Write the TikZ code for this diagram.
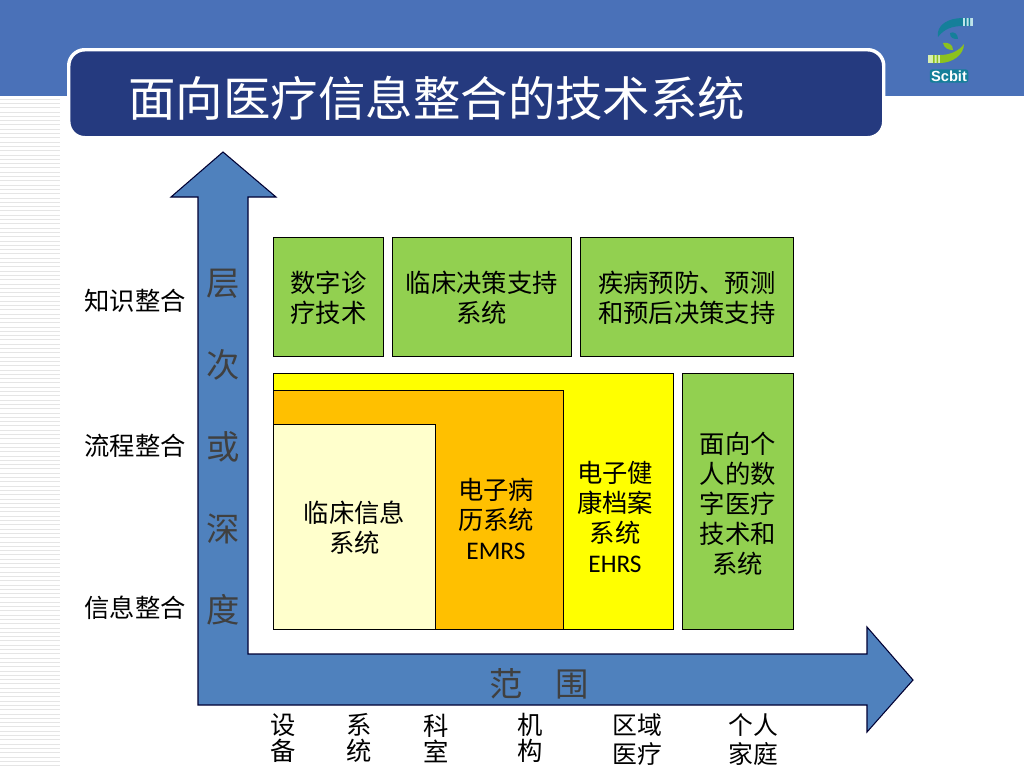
\documentclass[tikz,border=0pt]{standalone}
\usepackage{fontspec}
\setmainfont{Liberation Sans}
\newfontfamily\cjk{Noto Sans CJK SC}
\newfontfamily\lat{Carlito}
\definecolor{bandblue}{HTML}{4A71B8}
\definecolor{titleblue}{HTML}{253A7F}
\definecolor{arrowblue}{HTML}{4F81BD}
\definecolor{boxgreen}{HTML}{92D050}
\definecolor{paleyellow}{HTML}{FFFFCC}
\definecolor{amber}{HTML}{FFC000}
\definecolor{pureyellow}{HTML}{FFFF00}
\definecolor{arrowtext}{HTML}{404040}
\definecolor{logoteal}{HTML}{157F9A}
\definecolor{logogreen}{HTML}{8CC21E}
\definecolor{logopale}{HTML}{D8EFB0}
\definecolor{logopaleb}{HTML}{BFE3EA}
\tikzset{
  x=0.75pt,y=-0.75pt,
  box/.style={draw=black,line width=0.6pt,anchor=north west,inner sep=0pt,align=center,font=\cjk\fontsize{19}{22.5}\selectfont},
  greenbox/.style={box,fill=boxgreen},
  boxtext/.style={inner sep=0pt,align=center,font=\cjk\fontsize{19}{22.3}\selectfont},
  lab/.style={inner sep=0pt,align=center,font=\cjk\fontsize{19}{19.5}\selectfont},
  labwide/.style={inner sep=0pt,align=center,font=\cjk\fontsize{18.6}{21.75}\selectfont},
  axislab/.style={inner sep=0pt,text=arrowtext,font=\cjk\fontsize{25}{28}\selectfont},
}
\newcommand{\boxat}[6]{\node[#1,minimum width=#4*0.75pt,minimum height=#5*0.75pt] (#2) at #3 {#6};}
\newcommand{\lift}[1]{\rule{0pt}{#1pt}}
\begin{document}
\begin{tikzpicture}
\useasboundingbox (0,0) rectangle (1024,768);
\fill[white] (0,0) rectangle (1024,768);
% header band
\fill[bandblue] (0,0) rectangle (1024,96);
% stripes
\foreach \y in {99,103.3,...,768}{\draw[black!10,line width=0.6pt] (0,\y) -- (60,\y);}
% title
\node[draw=white,fill=titleblue,line width=2.6pt,rounded corners=12pt,anchor=north west,minimum width=815*0.75pt,minimum height=88*0.75pt,inner sep=0pt] (title) at (67,48) {};
\node[anchor=west,inner sep=0pt,text=white,font=\cjk\fontsize{35.6}{40}\selectfont] (titletext) at (128,98) {面向医疗信息整合的技术系统};
% logo
\fill[logoteal] (938,37) .. controls (936,25) and (948,18) .. (963,18) -- (963,26) .. controls (952,26) and (944,29) .. (938,37) -- cycle;
\fill[logopaleb] (963,18) rectangle (973,26);
\fill[logoteal] (965,18) rectangle (966.5,26) (968.5,18) rectangle (970,26);
\fill[logoteal] (950,33) .. controls (954,31) and (958,34) .. (958,39) .. controls (953,39) and (950,38) .. (950,33) -- cycle;
\fill[logogreen] (943,43) .. controls (948,42) and (953,44) .. (953,50) .. controls (948,50) and (944,48) .. (943,43) -- cycle;
\fill[logogreen] (964,44) .. controls (964,55) and (952,63) .. (940,63) -- (940,55) .. controls (950,55) and (959,51) .. (964,44) -- cycle;
\fill[logopale] (928,55) rectangle (940,63);
\fill[logogreen] (933,55) rectangle (934.5,63) (936.5,55) rectangle (938,63);
\node[fill=logoteal,rounded corners=2pt,inner xsep=1pt,inner ysep=1pt,text=white,font=\fontsize{11}{12}\bfseries\selectfont] (logotext) at (949,76) {Scbit};
% L arrow
\draw[draw=black!80!blue,fill=arrowblue,line width=0.8pt,line join=miter]
  (223,152) -- (276,197) -- (248,197) -- (248,654) -- (867,654) -- (867,627) -- (913,680) -- (867,732) -- (867,705) -- (198,705) -- (198,197) -- (171,197) -- cycle;
% axis chars
\node[axislab] (a1) at (223,284) {层};
\node[axislab] (a2) at (223,365) {次};
\node[axislab] (a3) at (223,447) {或};
\node[axislab] (a4) at (223,529) {深};
\node[axislab] (a5) at (223,610) {度};
\node[axislab] (fan) at (539,684) {范\hspace{1em}围};
% left labels
\node[lab] (l1) at (135,301) {知识整合};
\node[lab] (l2) at (135,446) {流程整合};
\node[lab] (l3) at (135,608) {信息整合};
% top boxes
\boxat{greenbox}{g1}{(273,237)}{110}{119}{\lift{18}数字诊\\疗技术}
\boxat{greenbox}{g2}{(392,237)}{179}{119}{\lift{18}临床决策支持\\系统}
\boxat{greenbox}{g3}{(580,237)}{213}{119}{\lift{18}疾病预防、预测\\和预后决策支持}
% nested boxes
\node[box,fill=pureyellow,minimum width=400*0.75pt,minimum height=256*0.75pt] (ehrs) at (273,373) {};
\node[box,fill=amber,minimum width=290*0.75pt,minimum height=239*0.75pt] (emrs) at (273,390) {};
\boxat{box,fill=paleyellow}{clin}{(273,424)}{162}{205}{\lift{18}临床信息\\系统}
\node[boxtext] (emrstext) at (496,519) {电子病\\历系统\\{\lat EMRS}};
\node[boxtext] (ehrstext) at (615,517) {电子健\\康档案\\系统\\{\lat EHRS}};
\boxat{greenbox}{g4}{(682,373)}{111}{256}{\lift{19.5}面向个\\人的数\\字医疗\\技术和\\系统}
% bottom labels
\node[lab] (b1) at (283,738) {设\\备};
\node[lab] (b2) at (359,738) {系\\统};
\node[lab] (b3) at (436,738) {科\\室};
\node[lab] (b4) at (530,738) {机\\构};
\node[labwide] (b5) at (637,740) {区域\\医疗};
\node[labwide] (b6) at (753,740) {个人\\家庭};
\end{tikzpicture}
\end{document}
